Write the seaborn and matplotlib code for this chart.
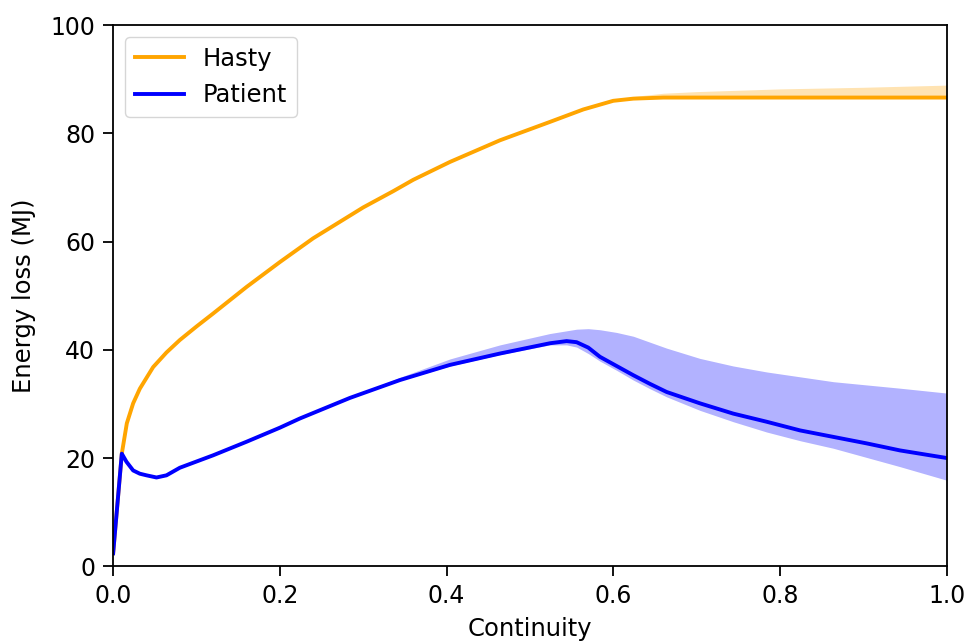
import numpy as np
import pandas as pd
import seaborn as sns
import matplotlib.pyplot as plt

# Hasty
hasty_x = [0, 0.0104, 0.0164, 0.024, 0.032, 0.048, 0.064, 0.08, 0.1, 0.12, 0.16, 0.2, 0.24,
           0.3, 0.336, 0.36, 0.404, 0.464, 0.524, 0.564, 0.6, 0.624, 0.66, 0.7, 0.8, 0.9, 1.0]
hasty_y = [2.4, 20.8, 26.4, 30.1, 32.8, 36.8, 39.5, 41.8, 44.3, 46.7, 51.6, 56.2, 60.6,
           66.3, 69.3, 71.4, 74.7, 78.7, 82.1, 84.4, 86.0, 86.4, 86.6, 86.6, 86.6, 86.6, 86.6]
hasty_lo = hasty_y
hasty_hi = [2.4, 20.8, 26.4, 30.1, 32.8, 36.8, 39.5, 41.8, 44.3, 46.7, 51.6, 56.2, 60.6,
            66.3, 69.3, 71.4, 74.7, 78.7, 82.1, 84.4, 86.1, 86.8, 87.4, 87.7, 88.2, 88.5, 88.9]

# Patient
patient_x = [0, 0.0104, 0.016, 0.024, 0.032, 0.04, 0.052, 0.064, 0.08, 0.12, 0.16, 0.2, 0.224,
             0.284, 0.344, 0.404, 0.464, 0.524, 0.544, 0.556, 0.57, 0.584, 0.604,
             0.624, 0.644, 0.664, 0.704, 0.744, 0.784, 0.824, 0.864, 0.904, 0.944, 1.0]
patient_y = [2.4, 20.8, 19.3, 17.7, 17.1, 16.8, 16.4, 16.8, 18.2, 20.5, 23.0, 25.6, 27.3,
             31.1, 34.4, 37.2, 39.3, 41.2, 41.6, 41.4, 40.4, 38.7, 37.0,
             35.3, 33.7, 32.2, 30.1, 28.2, 26.7, 25.1, 23.9, 22.7, 21.4, 20.0]
patient_hi = [2.4, 20.8, 19.3, 17.7, 17.1, 16.8, 16.4, 16.8, 18.2, 20.5, 23.0, 25.6, 27.3,
              31.2, 34.9, 38.3, 40.9, 43.0, 43.5, 43.8, 43.9, 43.7, 43.2,
              42.5, 41.4, 40.3, 38.4, 37.0, 35.9, 35.0, 34.1, 33.5, 32.9, 32.0]
patient_lo = [2.4, 20.8, 19.3, 17.7, 17.1, 16.8, 16.4, 16.8, 18.2, 20.5, 23.0, 25.6, 27.3,
              31.1, 34.3, 37.0, 39.1, 40.9, 40.9, 40.5, 39.3, 37.9, 36.2,
              34.4, 32.8, 31.3, 28.8, 26.7, 24.8, 23.2, 21.8, 20.1, 18.4, 15.9]

df = pd.concat([
    pd.DataFrame({'Continuity': hasty_x, 'loss': hasty_y, 'series': 'Hasty'}),
    pd.DataFrame({'Continuity': patient_x, 'loss': patient_y, 'series': 'Patient'}),
])

fig, ax = plt.subplots(figsize=(9.67, 6.42), dpi=100)
fig.subplots_adjust(left=0.117, right=0.979, top=0.961, bottom=0.118)

ax.fill_between(hasty_x, hasty_lo, hasty_hi, color='orange', alpha=0.3, lw=0)
ax.fill_between(patient_x, patient_lo, patient_hi, color='blue', alpha=0.3, lw=0)
sns.lineplot(data=df, x='Continuity', y='loss', hue='series',
             palette={'Hasty': 'orange', 'Patient': 'blue'}, lw=2.8, ax=ax)

ax.set_xlim(0, 1)
ax.set_ylim(0, 100)
ax.set_xlabel('Continuity', fontsize=17.5, labelpad=6)
ax.set_ylabel('Energy loss (MJ)', fontsize=17.5, labelpad=10)
ax.tick_params(labelsize=17, length=7, width=1.3, pad=6)
for s in ax.spines.values():
    s.set_linewidth(1.3)
ax.legend(loc='upper left', fontsize=17.5)

fig.savefig('out.png')
